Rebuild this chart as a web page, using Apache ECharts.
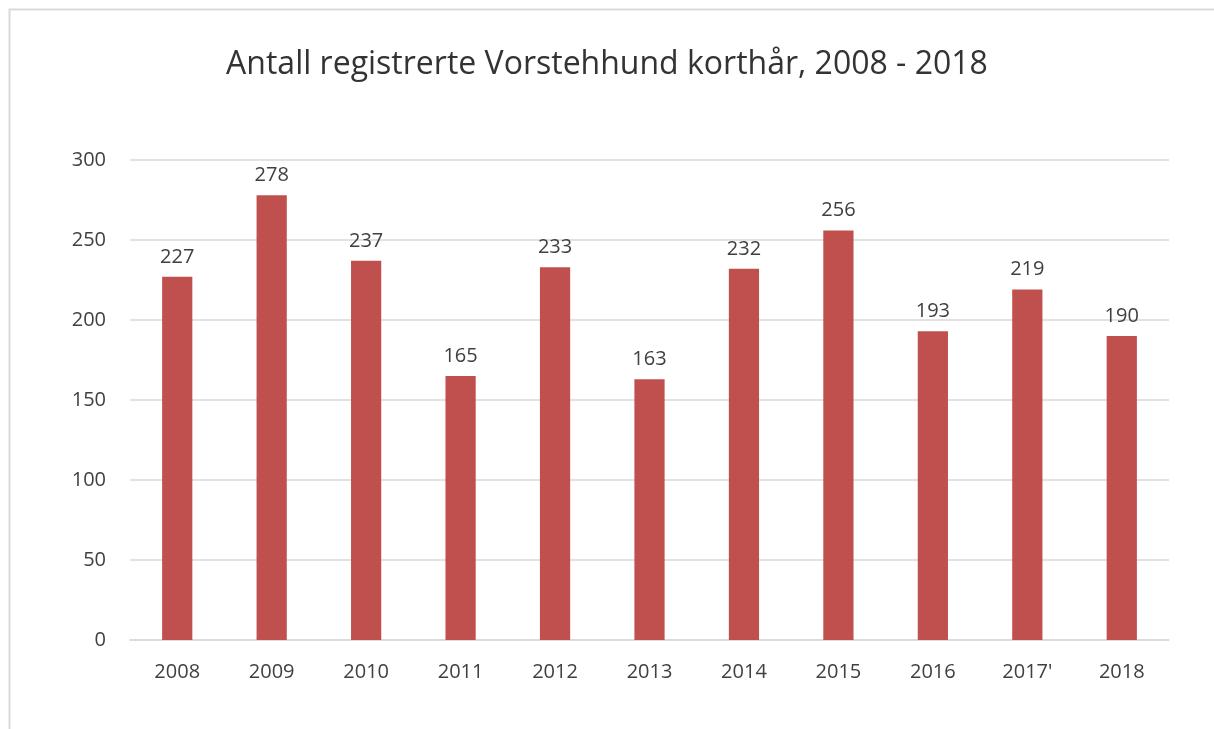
<!DOCTYPE html>
<html>
<head>
<meta charset="utf-8">
<script src="https://cdn.jsdelivr.net/npm/echarts@6/dist/echarts.min.js"></script>
<style>
  html, body { margin: 0; padding: 0; background: #fff; }
  #main { width: 1214px; height: 729px; }
</style>
</head>
<body>
<div id="main"></div>
<script>
    // data
    var years = ['2008', '2009', '2010', '2011', '2012', '2013', '2014', '2015', '2016', "2017'", '2018'];
    var counts = [227, 278, 237, 165, 233, 163, 232, 256, 193, 219, 190];
    var yTicks = [0, 50, 100, 150, 200, 250, 300];

    var myChart = echarts.init(document.getElementById('main'));
    var font = 'Open Sans, Liberation Sans, sans-serif';
    var option = {
        animation: false,
        graphic: [{
            type: 'polyline',
            shape: { points: [[9.5, 729], [9.5, 9.5], [1214, 9.5]] },
            style: { stroke: '#d9d9d9', lineWidth: 2, fill: null }
        }],
        title: {
            text: 'Antall registrerte Vorstehhund korthår, 2008 - 2018',
            left: 'center',
            top: 44,
            textStyle: { fontFamily: font, fontSize: 32, fontWeight: 'normal', color: '#333' }
        },
        grid: { left: 130, right: 45, top: 160, bottom: 89 },
        xAxis: {
            type: 'category',
            data: years,
            axisTick: { show: false },
            axisLine: { lineStyle: { color: '#d9d9d9', width: 1.5 } },
            axisLabel: { fontFamily: font, fontSize: 20, color: '#404040', margin: 22 }
        },
        yAxis: {
            type: 'value',
            min: yTicks[0],
            max: yTicks[yTicks.length - 1],
            interval: 50,
            axisLine: { show: false },
            axisTick: { show: false },
            splitLine: { lineStyle: { color: '#d9d9d9', width: 1.5 } },
            axisLabel: { fontFamily: font, fontSize: 20, color: '#404040', margin: 24 }
        },
        series: [{
            type: 'bar',
            data: counts,
            barWidth: '32%',
            itemStyle: { color: '#C0504D' },
            label: {
                show: true,
                position: 'top',
                distance: 10,
                fontFamily: font,
                fontSize: 20,
                color: '#404040'
            }
        }]
    };
    myChart.setOption(option);
</script>
</body>
</html>
